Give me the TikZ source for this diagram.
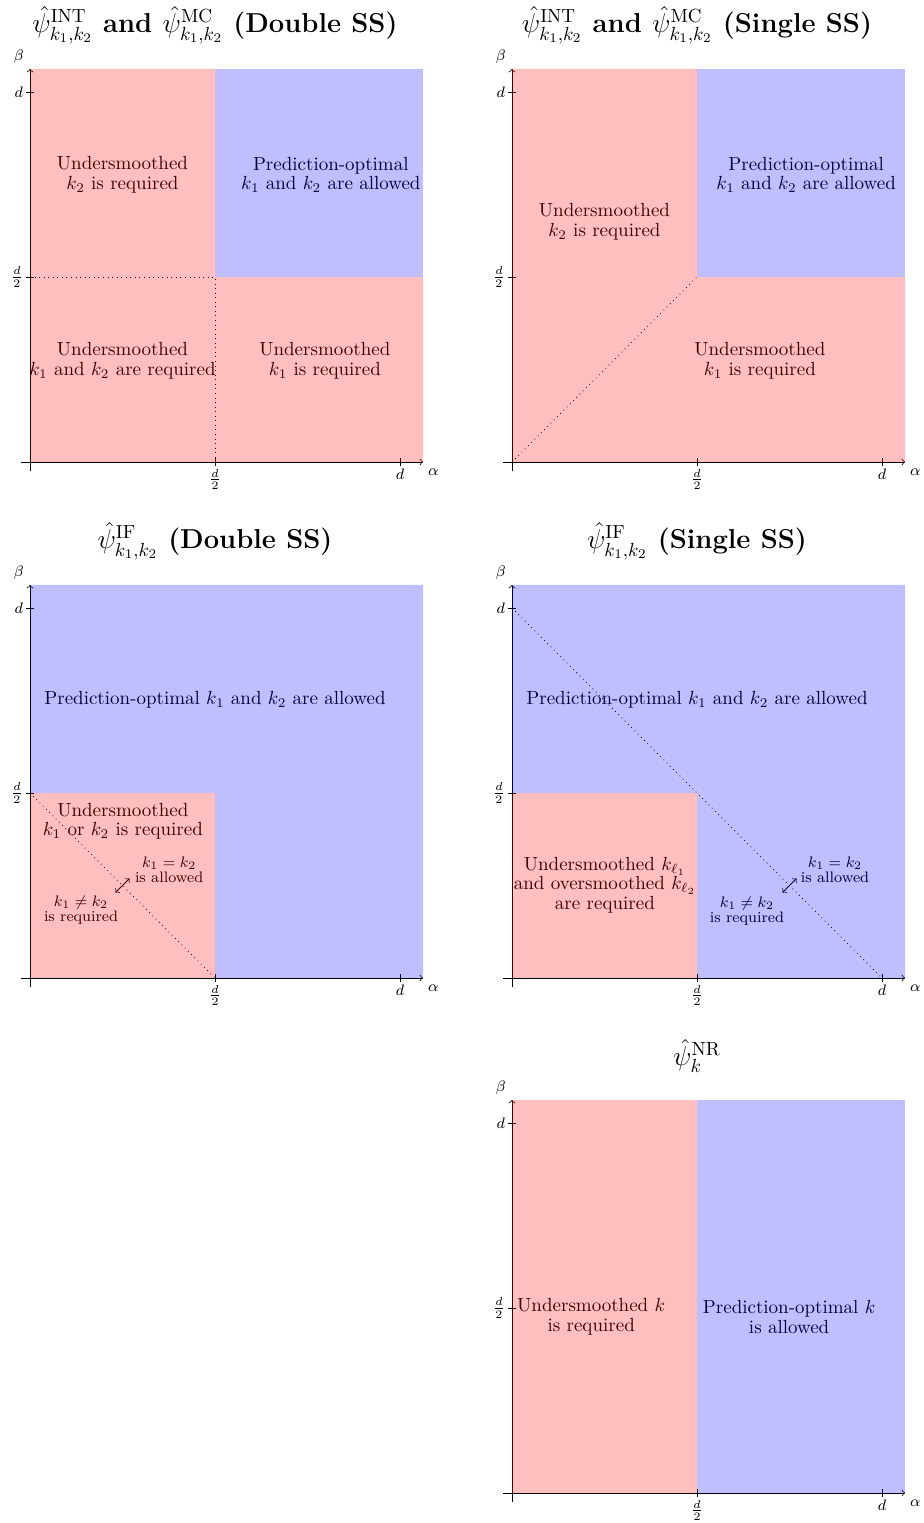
\documentclass[tikz,border=0pt]{standalone}
\usepackage{amsmath}
\tikzset{
  lbl/.style={align=center, font=\fontsize{10}{10.3}\selectfont, inner sep=0pt},
  sml/.style={align=center, font=\fontsize{8}{8}\selectfont, inner sep=0pt},
  ttl/.style={font=\Large\bfseries, inner sep=0pt},
  tck/.style={font=\footnotesize, inner sep=1pt},
  redfill/.style={fill=red, fill opacity=0.25},
  bluefill/.style={fill=blue, fill opacity=0.25},
  panel/.style={x=194.73pt, y=194.73pt}
}
\newcommand{\myaxes}[1]{%
  \draw[->] (-0.025,0) -- (1.0625,0);
  \draw[->] (0,-0.025) -- (0,1.0625);
  \foreach \v in {0.5,1} {
    \draw (\v,-0.011) -- (\v,0.011);
    \draw (-0.011,\v) -- (0.011,\v);
  }
  \node[tck, anchor=north] (#1xh) at (0.5,-0.013) {$\frac{d}{2}$};
  \node[tck, anchor=north] (#1xd) at (1,-0.013) {$d$};
  \node[tck, anchor=east] (#1yh) at (-0.013,0.5) {$\frac{d}{2}$};
  \node[tck, anchor=east] (#1yd) at (-0.013,1) {$d$};
  \node[tck] (#1al) at (1.09,-0.027) {$\alpha$};
  \node[tck] (#1be) at (-0.03,1.095) {$\beta$};
}
\begin{document}
\begin{tikzpicture}[x=0.5263pt, y=-0.5263pt]
\useasboundingbox (0,0) rectangle (923,1523);

% ---------- Panel 1 ----------
\begin{scope}[shift={(30,462)}, panel]
  \myaxes{a}
  \draw[dotted] (0,0.5) -- (0.5,0.5) -- (0.5,0);
  \node[ttl] (at) at (0.5,1.181) {$\hat{\psi}^{\mathrm{INT}}_{k_1,k_2}$ and $\hat{\psi}^{\mathrm{MC}}_{k_1,k_2}$ (Double SS)};
  \node[lbl] (a1) at (0.25,0.776) {Undersmoothed\\ $k_2$ is required};
  \node[lbl] (a2) at (0.813,0.776) {Prediction-optimal\\ $k_1$ and $k_2$ are allowed};
  \node[lbl] (a3) at (0.25,0.273) {Undersmoothed\\ $k_1$ and $k_2$ are required};
  \node[lbl] (a4) at (0.797,0.273) {Undersmoothed\\ $k_1$ is required};
  \fill[bluefill] (0.5,0.5) rectangle (1.0625,1.0625);
  \fill[redfill] (0,0) -- (1.0625,0) -- (1.0625,0.5) -- (0.5,0.5) -- (0.5,1.0625) -- (0,1.0625) -- cycle;
\end{scope}

% ---------- Panel 2 ----------
\begin{scope}[shift={(512,462)}, panel]
  \myaxes{b}
  \draw[dotted] (0,0) -- (0.5,0.5);
  \node[ttl] (bt) at (0.5,1.181) {$\hat{\psi}^{\mathrm{INT}}_{k_1,k_2}$ and $\hat{\psi}^{\mathrm{MC}}_{k_1,k_2}$ (Single SS)};
  \node[lbl] (b1) at (0.25,0.649) {Undersmoothed\\ $k_2$ is required};
  \node[lbl] (b2) at (0.795,0.776) {Prediction-optimal\\ $k_1$ and $k_2$ are allowed};
  \node[lbl] (b3) at (0.67,0.273) {Undersmoothed\\ $k_1$ is required};
  \fill[bluefill] (0.5,0.5) rectangle (1.0625,1.0625);
  \fill[redfill] (0,0) -- (1.0625,0) -- (1.0625,0.5) -- (0.5,0.5) -- (0.5,1.0625) -- (0,1.0625) -- cycle;
\end{scope}

% ---------- Panel 3 ----------
\begin{scope}[shift={(30,978)}, panel]
  \myaxes{c}
  \draw[dotted] (0,0.5) -- (0.5,0);
  \node[ttl] (ct) at (0.5,1.181) {$\hat{\psi}^{\mathrm{IF}}_{k_1,k_2}$ (Double SS)};
  \node[lbl] (c1) at (0.5,0.751) {Prediction-optimal $k_1$ and $k_2$ are allowed};
  \node[lbl] (c2) at (0.251,0.424) {Undersmoothed\\ $k_1$ or $k_2$ is required};
  \node[sml] (c3) at (0.376,0.292) {$k_1 = k_2$\\ is allowed};
  \node[sml] (c4) at (0.138,0.184) {$k_1 \neq k_2$\\ is required};
  \coordinate (c5) at (0.231,0.231);
  \coordinate (c6) at (0.269,0.269);
  \draw[<->] (c5) -- (c6);
  \fill[bluefill] (0,0.5) -- (0,1.0625) -- (1.0625,1.0625) -- (1.0625,0) -- (0.5,0) -- (0.5,0.5) -- cycle;
  \fill[redfill] (0,0) rectangle (0.5,0.5);
\end{scope}

% ---------- Panel 4 ----------
\begin{scope}[shift={(512,978)}, panel]
  \myaxes{d}
  \draw[dotted] (0,1) -- (1,0);
  \node[ttl] (dt) at (0.5,1.181) {$\hat{\psi}^{\mathrm{IF}}_{k_1,k_2}$ (Single SS)};
  \node[lbl] (d1) at (0.5,0.751) {Prediction-optimal $k_1$ and $k_2$ are allowed};
  \node[lbl] (d2) at (0.251,0.251) {Undersmoothed $k_{\ell_1}$\\ and oversmoothed $k_{\ell_2}$\\ are required};
  \node[sml] (d3) at (0.873,0.292) {$k_1 = k_2$\\ is allowed};
  \node[sml] (d4) at (0.635,0.181) {$k_1 \neq k_2$\\ is required};
  \coordinate (d5) at (0.731,0.231);
  \coordinate (d6) at (0.769,0.269);
  \draw[<->] (d5) -- (d6);
  \fill[bluefill] (0,0.5) -- (0,1.0625) -- (1.0625,1.0625) -- (1.0625,0) -- (0.5,0) -- (0.5,0.5) -- cycle;
  \fill[redfill] (0,0) rectangle (0.5,0.5);
\end{scope}

% ---------- Panel 5 ----------
\begin{scope}[shift={(512,1493)}, panel]
  \myaxes{e}
  \node[ttl] (et) at (0.5,1.181) {$\hat{\psi}^{\mathrm{NR}}_{k}$};
  \node[lbl] (e1) at (0.214,0.476) {Undersmoothed $k$\\ is required};
  \node[lbl] (e2) at (0.749,0.476) {Prediction-optimal $k$\\ is allowed};
  \fill[redfill] (0,0) rectangle (0.5,1.0625);
  \fill[bluefill] (0.5,0) rectangle (1.0625,1.0625);
\end{scope}
\end{tikzpicture}
\end{document}
